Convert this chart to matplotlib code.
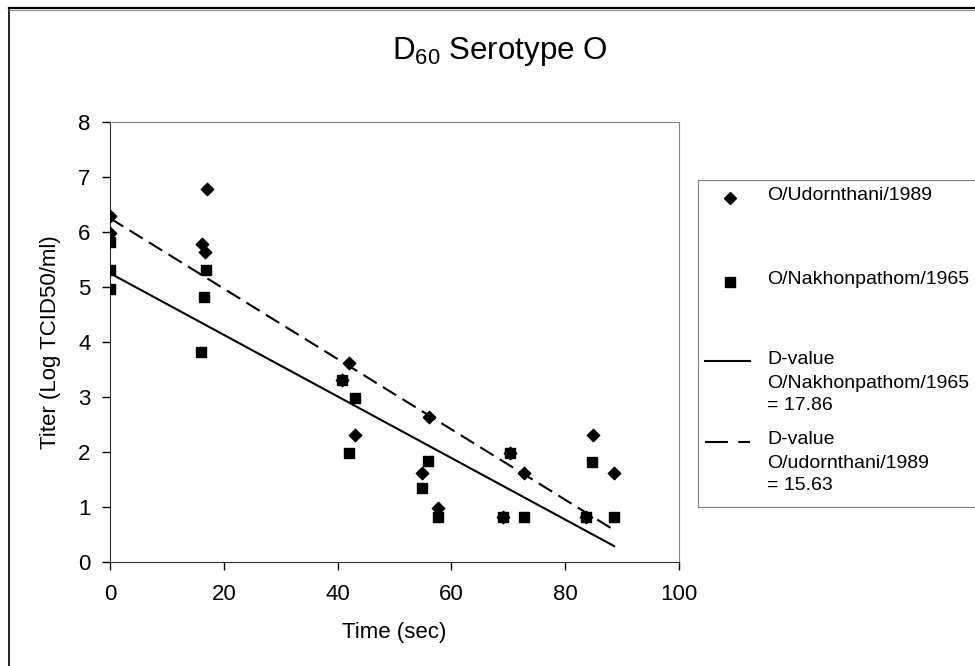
import matplotlib
matplotlib.use('Agg')
import matplotlib.pyplot as plt
from matplotlib.lines import Line2D
import numpy as np

plt.rcParams['font.family'] = ['Liberation Sans', 'DejaVu Sans']
plt.rcParams['mathtext.fontset'] = 'custom'
plt.rcParams['mathtext.rm'] = 'Liberation Sans'

# O/Udornthani/1989 (diamonds)
udorn_time = [0, 0, 16.1, 16.7, 17.0, 40.8, 42.0, 43.1, 54.9, 56.0, 57.7,
              69.1, 70.3, 72.8, 83.6, 84.8, 88.6]
udorn_titer = [6.30, 5.99, 5.79, 5.64, 6.79, 3.31, 3.61, 2.31, 1.62, 2.64, 0.98,
               0.81, 1.98, 1.62, 0.81, 2.31, 1.62]

# O/Nakhonpathom/1965 (squares)
nakhon_time = [0, 0, 0, 16.0, 16.5, 16.9, 40.8, 42.0, 43.0, 54.9, 55.9, 57.6,
               69.1, 70.3, 72.7, 83.6, 84.7, 88.6]
nakhon_titer = [5.81, 5.31, 4.97, 3.82, 4.81, 5.31, 3.31, 1.99, 2.99, 1.34, 1.84, 0.81,
                0.81, 1.98, 0.81, 0.81, 1.82, 0.81]

# trend lines: intercept and D-value (slope = -1/D)
nakhon_intercept, nakhon_d = 5.25, 17.86
udorn_intercept, udorn_d = 6.25, 15.63
trend_x = [0, 88.6]

W, H = 975, 666
fig = plt.figure(figsize=(W / 100, H / 100), dpi=100)

def fx(px):
    return px / W

def fy(py):
    return 1 - py / H

# outer chart border (only left and top visible)
fig.add_artist(Line2D([fx(9), fx(9)], [fy(8), fy(680)], color='black', lw=1.2))
fig.add_artist(Line2D([fx(9), fx(990)], [fy(8), fy(8)], color='black', lw=1.6))
fig.add_artist(Line2D([fx(9), fx(990)], [fy(10), fy(10)], color='#909090', lw=0.8))

ax = fig.add_axes([fx(110), fy(562), fx(679) - fx(110), fy(122) - fy(562)])

ax.scatter(udorn_time, udorn_titer, marker='D', s=40, color='black', zorder=3)
ax.scatter(nakhon_time, nakhon_titer, marker='s', s=45, color='black', zorder=3)

tx = np.array(trend_x)
ax.plot(tx, nakhon_intercept - tx / nakhon_d, color='black', lw=1.5)
ax.plot(tx, udorn_intercept - tx / udorn_d, color='black', lw=1.5, dashes=(7.5, 3.5))

ax.set_xlim(0, 100)
ax.set_ylim(0, 8)
ax.set_xticks(range(0, 101, 20))
ax.set_yticks(range(0, 9))
ax.tick_params(direction='out', length=6, width=1, labelsize=16, pad=10)
ax.tick_params(axis='y', pad=8)
for s in ['top', 'right']:
    ax.spines[s].set_color('#808080')
for s in ['left', 'bottom']:
    ax.spines[s].set_color('#303030')

ax.set_xlabel('Time (sec)', fontsize=16, labelpad=12)
ax.set_ylabel('Titer (Log TCID50/ml)', fontsize=16, labelpad=12)

fig.text(fx(500), fy(52), r'$\mathregular{D_{60}}$ Serotype O', fontsize=22.5,
         ha='center', va='center')

# legend box
lax = fig.add_axes([fx(698), fy(507), fx(990) - fx(698), fy(180) - fy(507)])
lax.set_xlim(0, 292)
lax.set_ylim(327, 0)
lax.set_xticks([])
lax.set_yticks([])
for s in lax.spines.values():
    s.set_color('#808080')
lax.plot([32], [18], marker='D', ms=6, color='black', ls='none')
lax.plot([32], [102], marker='s', ms=6.5, color='black', ls='none')
lax.plot([7, 52], [181, 181], color='black', lw=1.5)
lax.plot([7, 52], [262, 262], color='black', lw=1.5, dashes=(11, 5))

legend_lines = [
    ('O/Udornthani/1989', 16),
    ('O/Nakhonpathom/1965', 100),
    ('D-value', 180),
    ('O/Nakhonpathom/1965', 203),
    ('= 17.86', 225),
    ('D-value', 260),
    ('O/udornthani/1989', 283),
    ('= 15.63', 305),
]
for txt, y in legend_lines:
    lax.text(69, y, txt, fontsize=14, ha='left', va='center')

fig.savefig('out.png', dpi=100)
